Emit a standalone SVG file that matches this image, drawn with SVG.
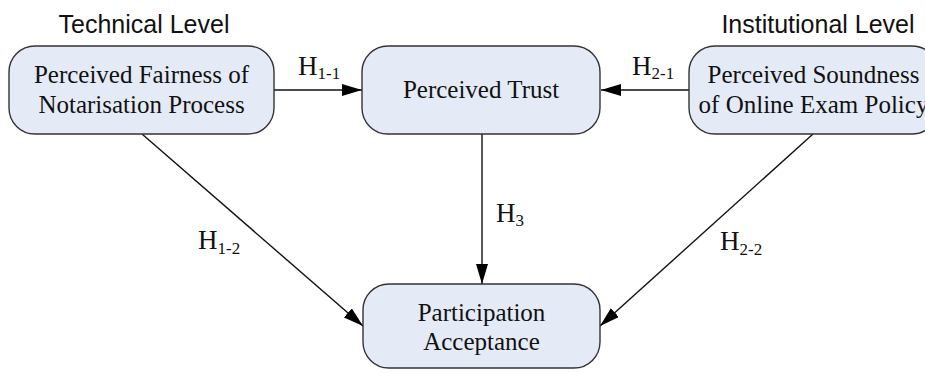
<svg xmlns="http://www.w3.org/2000/svg" width="925" height="373" viewBox="0 0 925 373">
<style>
.node rect{fill:#e5ebf6;stroke:#333;stroke-width:1.4}
.nt{font-family:"Liberation Serif","Times New Roman",serif;font-size:25px;fill:#111;text-anchor:middle}
.lv{font-family:"Liberation Sans",Arial,sans-serif;font-size:25px;fill:#111;text-anchor:middle}
.h{font-family:"Liberation Serif","Times New Roman",serif;font-size:27px;fill:#111}
.h tspan.s{font-size:17px}
.conn line{stroke:#111;stroke-width:1.4;fill:none}
</style>
<defs>
<marker id="ah" viewBox="0 0 20 12" refX="20" refY="6" markerWidth="20" markerHeight="12" markerUnits="userSpaceOnUse" orient="auto">
<path d="M0,0 L20,6 L0,12 Z" fill="#000"/>
</marker>
</defs>
<text class="lv" x="144" y="33">Technical Level</text>
<text class="lv" x="818" y="33">Institutional Level</text>
<g class="conn">
<line x1="274" y1="90" x2="362" y2="90" marker-end="url(#ah)"/>
<line x1="689" y1="90" x2="601" y2="90" marker-end="url(#ah)"/>
<line x1="482" y1="134" x2="482" y2="284" marker-end="url(#ah)"/>
<line x1="142" y1="134" x2="363" y2="326" marker-end="url(#ah)"/>
<line x1="813" y1="134" x2="600" y2="326" marker-end="url(#ah)"/>
</g>
<g id="n-fairness" class="node">
<rect x="9" y="46" width="265" height="88" rx="26" ry="26"/>
<text class="nt" x="141.5" y="83">Perceived Fairness of</text>
<text class="nt" x="141.5" y="113">Notarisation Process</text>
</g>
<g id="n-trust" class="node">
<rect x="362" y="46" width="238" height="88" rx="26" ry="26"/>
<text class="nt" x="481" y="98">Perceived Trust</text>
</g>
<g id="n-soundness" class="node">
<rect x="689" y="46" width="249" height="88" rx="26" ry="26"/>
<text class="nt" x="813.5" y="83">Perceived Soundness</text>
<text class="nt" x="813.5" y="113">of Online Exam Policy</text>
</g>
<g id="n-acceptance" class="node">
<rect x="363" y="284" width="237" height="84" rx="26" ry="26"/>
<text class="nt" x="481.5" y="321">Participation</text>
<text class="nt" x="481.5" y="350">Acceptance</text>
</g>
<g id="labels">
<text class="h" x="298" y="75">H<tspan class="s" dy="4">1-1</tspan></text>
<text class="h" x="632" y="75">H<tspan class="s" dy="4">2-1</tspan></text>
<text class="h" x="496" y="222">H<tspan class="s" dy="4">3</tspan></text>
<text class="h" x="198" y="249">H<tspan class="s" dy="5">1-2</tspan></text>
<text class="h" x="720" y="250">H<tspan class="s" dy="5">2-2</tspan></text>
</g>
</svg>
